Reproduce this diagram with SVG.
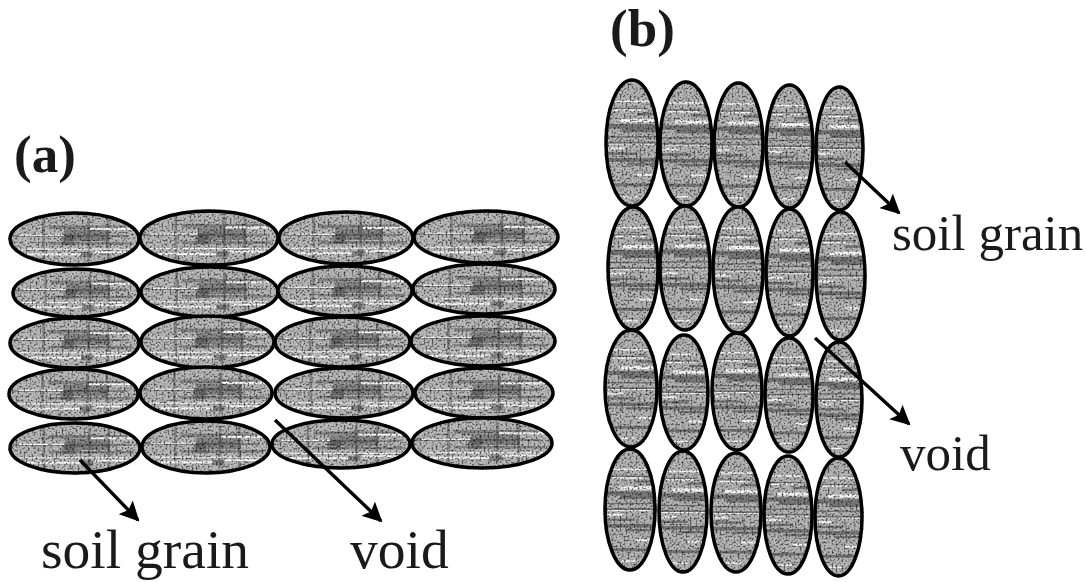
<svg xmlns="http://www.w3.org/2000/svg" width="1086" height="582" viewBox="0 0 1086 582">
<style>
.g{stroke:#000;stroke-width:3.5}
.a{fill:url(#texA)}
.b{fill:url(#texB)}
.arrow{fill:none;stroke:#000;stroke-width:3.4;marker-end:url(#head)}
text{font-family:"Liberation Serif","Times New Roman",serif;fill:#1a1a1a}
.lab{font-size:55.500px}
.labr{font-size:51px}
.head{font-size:53px;font-weight:bold}
</style>
<defs>
<marker id="head" viewBox="0 0 10 10" refX="9" refY="5" markerWidth="5.8" markerHeight="5.8" orient="auto"><path d="M0 0L10 5L0 10L2 5Z" fill="#000"/></marker>
<filter id="noise" filterUnits="userSpaceOnUse" x="0" y="60" width="1086" height="522" color-interpolation-filters="sRGB">
<feTurbulence type="fractalNoise" baseFrequency="0.5" numOctaves="2" seed="4"/>
<feColorMatrix type="matrix" values="2 0 0 0 -0.1  2 0 0 0 -0.1  2 0 0 0 -0.1  0 0 0 0 1"/>
<feComposite in2="SourceAlpha" operator="in" result="n"/>
<feBlend in="n" in2="SourceGraphic" mode="multiply"/>
</filter>
<pattern id="texA" width="1" height="1" patternContentUnits="objectBoundingBox">
<rect width="1" height="1" fill="#bcbcbc"/>
<g fill="#3c3c3c" fill-opacity=".4">
<rect x=".3" y=".24" width=".6" height=".07"/><rect x=".42" y=".32" width=".35" height=".22"/><rect x=".4" y=".42" width=".1" height=".2"/><rect x=".02" y=".42" width=".9" height=".04"/><rect x=".3" y=".56" width=".65" height=".05"/><rect x=".55" y=".75" width=".09" height=".1"/><rect x=".6" y=".1" width=".02" height=".8"/><rect x=".75" y=".1" width=".02" height=".8"/><rect x=".25" y=".1" width=".02" height=".8"/>
</g>
<g fill="#fff">
<rect x=".62" y=".285" width=".33" height=".04"/><rect x=".07" y=".415" width=".35" height=".024"/><rect x=".07" y=".685" width=".88" height=".022"/><rect x=".13" y=".775" width=".42" height=".04"/><rect x=".65" y=".735" width=".3" height=".035"/>
</g>
</pattern>
<pattern id="texB" width="1" height="1" patternContentUnits="objectBoundingBox">
<rect width="1" height="1" fill="#b8b8b8"/>
<g fill="#3a3a3a" fill-opacity=".5">
<rect y=".35" width="1" height=".035"/><rect x=".3" y=".385" width=".7" height=".03"/><rect y=".445" width="1" height=".012"/><rect y=".49" width="1" height=".02"/><rect y=".575" width=".6" height=".02"/><rect y=".62" width="1" height=".03"/><rect x=".4" y=".66" width=".6" height=".02"/><rect y=".82" width="1" height=".025"/><rect y=".22" width=".8" height=".012"/><rect x=".6" y=".26" width=".4" height=".02"/><rect x=".3" y=".55" width=".02" height=".14"/><rect x=".65" y=".55" width=".02" height=".14"/>
</g>
<g fill="#fff">
<rect x=".28" y=".31" width=".68" height=".026"/><rect x=".1" y=".163" width=".8" height=".012"/><rect x=".15" y=".233" width=".6" height=".012"/><rect x=".05" y=".535" width=".3" height=".016"/><rect x=".05" y=".505" width=".9" height=".008"/><rect x=".6" y=".745" width=".35" height=".016"/><rect x=".3" y=".92" width=".3" height=".012"/>
</g>
</pattern>
</defs>
<g id="grains-a" filter="url(#noise)">
<g class="a g">
<ellipse cx="74.500" cy="239" rx="64.500" ry="26"/><ellipse cx="209" cy="238" rx="69" ry="27"/><ellipse cx="346" cy="238" rx="67" ry="26"/><ellipse cx="486" cy="237" rx="72" ry="26"/>
<ellipse cx="76" cy="293" rx="63" ry="24"/><ellipse cx="209.500" cy="292" rx="68.500" ry="25"/><ellipse cx="345" cy="291" rx="67" ry="25"/><ellipse cx="484" cy="289" rx="71" ry="25"/>
<ellipse cx="74.500" cy="343" rx="64.500" ry="25"/><ellipse cx="207.500" cy="342" rx="66.500" ry="26"/><ellipse cx="342.500" cy="342" rx="67.500" ry="25"/><ellipse cx="483" cy="341" rx="72" ry="25"/>
<ellipse cx="73.500" cy="394" rx="64.500" ry="25"/><ellipse cx="206" cy="393" rx="66" ry="26"/><ellipse cx="344" cy="393" rx="69" ry="25"/><ellipse cx="484" cy="393" rx="69" ry="25"/>
<ellipse cx="75" cy="448" rx="65" ry="25"/><ellipse cx="206" cy="447" rx="64" ry="26"/><ellipse cx="341" cy="444" rx="69" ry="24"/><ellipse cx="482" cy="443" rx="70" ry="25"/>
</g>
</g>
<g id="grains-b" filter="url(#noise)">
<g class="b g">
<ellipse cx="632" cy="143" rx="26" ry="63"/><ellipse cx="686" cy="144" rx="26" ry="62"/><ellipse cx="738.500" cy="145" rx="24.500" ry="62"/><ellipse cx="789.500" cy="146.500" rx="23.500" ry="61.500"/><ellipse cx="839.500" cy="148.500" rx="23.500" ry="61.500"/>
<ellipse cx="633" cy="268.500" rx="25" ry="61.500"/><ellipse cx="685" cy="268" rx="25" ry="62"/><ellipse cx="738" cy="270" rx="25" ry="63"/><ellipse cx="789.500" cy="272.500" rx="23.500" ry="63.500"/><ellipse cx="840.500" cy="276" rx="24.500" ry="64"/>
<ellipse cx="631" cy="388.500" rx="26" ry="58.500"/><ellipse cx="684" cy="392.500" rx="24" ry="57.500"/><ellipse cx="737" cy="391.500" rx="25" ry="58.500"/><ellipse cx="789" cy="395" rx="24" ry="57"/><ellipse cx="839" cy="399.500" rx="23" ry="57.500"/>
<ellipse cx="630" cy="509.500" rx="25" ry="60.500"/><ellipse cx="683" cy="511.500" rx="24" ry="60.500"/><ellipse cx="736" cy="512.500" rx="25" ry="59.500"/><ellipse cx="788" cy="515" rx="24" ry="59"/><ellipse cx="838.500" cy="517" rx="23.500" ry="59"/>
</g>
</g>
<g id="connectors">
<line class="arrow" x1="80" y1="460" x2="138" y2="520"/>
<line class="arrow" x1="275" y1="420" x2="381" y2="521"/>
<line class="arrow" x1="845" y1="162" x2="899" y2="213"/>
<line class="arrow" x1="815" y1="338" x2="909" y2="424"/>
</g>
<g id="labels">
<text class="head" x="14" y="172">(a)</text>
<text class="head" x="610" y="46">(b)</text>
<text class="lab" x="41" y="568">soil grain</text>
<text class="lab" x="350" y="568">void</text>
<text class="labr" x="892" y="250">soil grain</text>
<text class="labr" x="900" y="470">void</text>
</g>
</svg>
